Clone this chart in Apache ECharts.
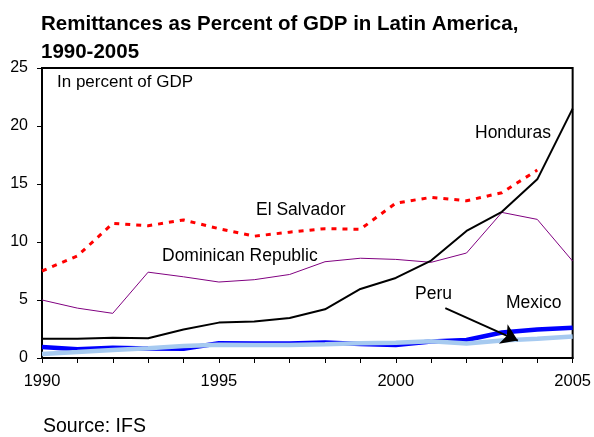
<!DOCTYPE html>
<html><head><meta charset="utf-8">
<script src="https://cdn.jsdelivr.net/npm/echarts@6/dist/echarts.min.js"></script>
<style>html,body{margin:0;padding:0;background:#fff}#c{width:594px;height:437px}</style>
</head><body><div id="c"></div>
<script>
const years = [1990,1991,1992,1993,1994,1995,1996,1997,1998,1999,2000,2001,2002,2003,2004,2005];
const elSalvador = [7.5,8.8,11.6,11.4,11.9,11.15,10.5,10.85,11.15,11.1,13.35,13.85,13.55,14.25,16.2,null];
const dominican = [5.0,4.3,3.85,7.4,7.0,6.55,6.75,7.2,8.3,8.6,8.5,8.25,9.05,12.55,11.95,8.35];
const honduras = [1.65,1.67,1.75,1.7,2.45,3.05,3.15,3.45,4.2,5.95,6.9,8.4,10.95,12.6,15.4,21.5];
const mexico = [0.95,0.75,0.88,0.82,0.8,1.27,1.25,1.25,1.33,1.2,1.12,1.43,1.55,2.2,2.45,2.6];
const peru = [0.35,0.52,0.7,0.85,1.03,1.15,1.12,1.12,1.18,1.27,1.32,1.45,1.25,1.5,1.65,1.85];
const yTicks = [0,5,10,15,20,25];
const xTicks = [1990,1995,2000,2005];

const pair = arr => years.map((y,i)=>[y,arr[i]]);
const chart = echarts.init(document.getElementById('c'));
const F = '"Liberation Sans", Arial, sans-serif';
const lbl = (text,x,y,size) => ({type:'text',x:x,y:y,silent:true,
  style:{text:text,font:size+'px '+F,fill:'#000',textVerticalAlign:'middle',verticalAlign:'middle'}});
chart.setOption({
  animation:false,
  title:{text:'Remittances as Percent of GDP in Latin America,\n1990-2005',left:36,top:5,
    textStyle:{fontFamily:F,fontSize:20.5,fontWeight:'bold',color:'#000',lineHeight:28}},
  grid:{left:42,right:20,top:68,bottom:79,show:true,borderColor:'#000',borderWidth:2},
  xAxis:{type:'value',min:xTicks[0],max:xTicks[xTicks.length-1],interval:5,
    axisLine:{lineStyle:{color:'#000',width:2}},
    axisTick:{show:true,length:5,lineStyle:{color:'#000',width:1}},
    minorTick:{show:true,splitNumber:5,length:5,lineStyle:{color:'#000',width:1}},
    splitLine:{show:false},
    axisLabel:{fontFamily:F,fontSize:16.5,color:'#000',margin:15,formatter:v=>String(v)}},
  yAxis:{type:'value',min:yTicks[0],max:yTicks[yTicks.length-1],interval:5,
    axisLine:{show:true,lineStyle:{color:'#000',width:2}},
    axisTick:{show:true,length:5,lineStyle:{color:'#000'}},
    splitLine:{show:false},
    axisLabel:{fontFamily:F,fontSize:16,color:'#000',margin:14}},
  series:[
    {name:'El Salvador',type:'line',data:pair(elSalvador),showSymbol:false,
      lineStyle:{color:'#ff0000',width:3,type:[5,6]}},
    {name:'Dominican Republic',type:'line',data:pair(dominican),showSymbol:false,
      lineStyle:{color:'#800080',width:1}},
    {name:'Honduras',type:'line',data:pair(honduras),showSymbol:false,
      lineStyle:{color:'#000',width:2}},
    {name:'Peru',type:'line',data:pair(peru),showSymbol:false,z:3,
      lineStyle:{color:'#a6caf0',width:4.5}},
    {name:'Mexico',type:'line',data:pair(mexico),showSymbol:false,z:2,
      lineStyle:{color:'#0000ff',width:4.5},
      markLine:{silent:true,symbol:['none','arrow'],symbolSize:[16,16],label:{show:false},
        lineStyle:{color:'#000',width:2,type:'solid'},
        data:[[{coord:[2001.4,4.3]},{coord:[2003.45,1.5]}]]}}
  ],
  graphic:[
    lbl('In percent of GDP',57,82,17),
    lbl('Honduras',475,133,17.5),
    lbl('El Salvador',256,210,17.5),
    lbl('Dominican Republic',162,256,17.5),
    lbl('Peru',415,294,17.5),
    lbl('Mexico',506,303,17.5),
    lbl('Source: IFS',43,427,19.5)
  ]
});
</script></body></html>
